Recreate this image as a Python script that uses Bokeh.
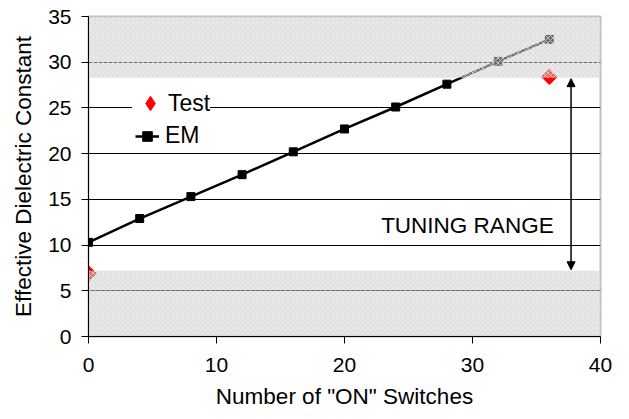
from bokeh.plotting import figure
from bokeh.models import (ColumnDataSource, Legend, LegendItem, Arrow, NormalHead,
                          Range1d, FixedTicker, Label)
from bokeh.embed import file_html
from bokeh.resources import INLINE
import math

# ---- data ----
em_x = [0, 4, 8, 12, 16, 20, 24, 28, 32, 36]
em_y = [10.3, 12.9, 15.3, 17.7, 20.2, 22.7, 25.1, 27.6, 30.1, 32.5]
test_x = [0, 36]
test_y = [6.9, 28.4]
band_bottom = [0.0, 28.3]
band_top = [7.2, 35.0]
band_left = [0, 0]
band_right = [40, 40]
arrow_x = 37.7
arrow_y = [7.3, 28.2]
x_ticks = [0, 10, 20, 30, 40]
y_ticks = [0, 5, 10, 15, 20, 25, 30, 35]

FONT = "Liberation Sans"

p = figure(width=629, height=419, output_backend="svg", toolbar_location=None,
           x_range=Range1d(0, 40), y_range=Range1d(0, 35))
p.min_border_left = 88
p.min_border_right = 29
p.min_border_top = 16
p.min_border_bottom = 83
p.background_fill_color = "white"
p.border_fill_color = "white"
p.outline_line_color = "#c0c0c0"
p.outline_line_width = 2

# grid
p.xgrid.visible = False
p.ygrid.ticker = FixedTicker(ticks=y_ticks)
p.ygrid.grid_line_color = "black"
p.ygrid.grid_line_width = 1

# axes
for ax in (p.xaxis[0], p.yaxis[0]):
    ax.axis_line_color = "black"
    ax.axis_line_width = 1
    ax.major_tick_line_color = "black"
    ax.major_tick_in = 0
    ax.major_tick_out = 7
    ax.minor_tick_line_color = None
    ax.major_label_text_font = FONT
    ax.major_label_text_font_size = "21px"
    ax.major_label_text_color = "black"
    ax.axis_label_text_font = FONT
    ax.axis_label_text_font_size = "22.5px"
    ax.axis_label_text_font_style = "normal"
    ax.axis_label_text_color = "black"
p.xaxis.ticker = FixedTicker(ticks=x_ticks)
p.yaxis.ticker = FixedTicker(ticks=y_ticks)
p.xaxis.axis_label = 'Number of "ON" Switches'
p.yaxis.axis_label = "Effective Dielectric Constant"
p.xaxis.major_label_standoff = 14
p.yaxis.major_label_standoff = 10
p.xaxis.axis_label_standoff = 9
p.yaxis.axis_label_standoff = 9

# series
em_src = ColumnDataSource(dict(x=em_x, y=em_y))
test_src = ColumnDataSource(dict(x=test_x, y=test_y))
# legend key glyph for Test (hidden beneath the rotated squares)
r_test_key = p.scatter("x", "y", source=test_src, marker="diamond", size=1,
                       fill_color="red", line_color="red")
p.scatter("x", "y", source=test_src, marker="square", size=11,
          angle=math.pi / 4, fill_color="red", line_color="red")
r_line = p.line("x", "y", source=em_src, line_color="black", line_width=2.5)
r_sq = p.scatter("x", "y", source=em_src, marker="square", size=8,
                 fill_color="black", line_color="black")

# shaded bands (drawn over series)
band_src = ColumnDataSource(dict(left=band_left, right=band_right,
                                 bottom=band_bottom, top=band_top))
p.quad(left="left", right="right", bottom="bottom", top="top", source=band_src,
       fill_color="#c8c8c8", fill_alpha=0.55, line_color=None,
       hatch_pattern="diagonal_cross", hatch_color="#f4f4f4", hatch_alpha=0.6,
       hatch_scale=5, hatch_weight=1)

# tuning range arrow
p.add_layout(Arrow(x_start=arrow_x, y_start=arrow_y[0], x_end=arrow_x, y_end=arrow_y[1],
                   line_color="black", line_width=1.5,
                   start=NormalHead(size=8, fill_color="black", line_color="black"),
                   end=NormalHead(size=8, fill_color="black", line_color="black")))
p.add_layout(Label(x=29.6, y=12.1, text="TUNING RANGE", text_font=FONT,
                   text_font_size="22.5px", text_align="center", text_baseline="middle",
                   text_color="black"))

legend_test = Legend(items=[LegendItem(label="Test", renderers=[r_test_key])],
                     location=(44, 215), orientation="vertical",
                     background_fill_color="white", background_fill_alpha=1.0,
                     border_line_color=None, label_text_font=FONT,
                     label_text_font_size="23px", label_text_color="black",
                     glyph_width=36, glyph_height=36, label_height=26,
                     label_standoff=0, spacing=0, padding=0, margin=0)
legend_em = Legend(items=[LegendItem(label="EM", renderers=[r_line, r_sq])],
                   location=(47, 187), orientation="vertical",
                   background_fill_color="white", background_fill_alpha=1.0,
                   border_line_color=None, label_text_font=FONT,
                   label_text_font_size="23px", label_text_color="black",
                   glyph_width=24, glyph_height=26, label_height=26,
                   label_standoff=6, spacing=0, padding=3, margin=0)
p.add_layout(legend_test)
p.add_layout(legend_em)

open("out.html", "w").write(file_html(p, INLINE))
